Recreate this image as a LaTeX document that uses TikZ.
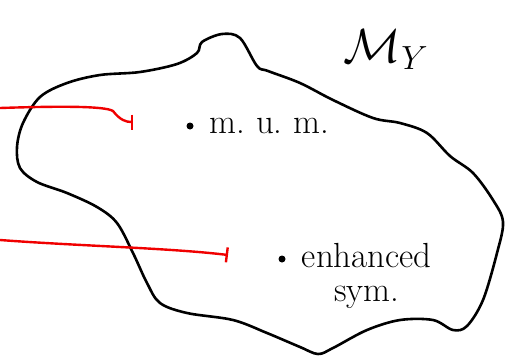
\RequirePackage{fix-cm}
\documentclass[tikz,border=0pt]{standalone}
\usepackage{tikz}
\usetikzlibrary{arrows.meta,positioning}
\definecolor{ink}{HTML}{000000}
\definecolor{redink}{HTML}{F00000}

\begin{document}
\begin{tikzpicture}[x=1bp, y=-1bp, node distance=16bp,
  every node/.style={font=\fontsize{35}{34}\selectfont, inner sep=0pt, text=ink},
  spot/.style={circle, fill=ink, minimum size=7bp, inner sep=0pt},
  redarrow/.style={redink, line width=2.4bp, line cap=round, -{Bar[width=15bp, line width=2.4bp]}}]
\useasboundingbox (0,0) rectangle (511,362);
% the region
\draw[ink, line width=2.6bp, line join=round] plot[smooth cycle, tension=0.55] coordinates {
  (202,42) (222,34) (240,38) (257,66) (268,71) (300,83) (333,100) (373,118)
  (400,123) (427,133) (450,156) (473,173) (493,200) (503,222) (497,253)
  (483,300) (467,326) (453,330) (433,320) (400,320) (367,330) (333,348)
  (318,354) (300,347) (267,333) (233,320) (187,313) (160,303) (147,283)
  (133,253) (117,223) (97,207) (67,193) (37,182) (20,168) (17,147) (23,123)
  (40,97) (67,83) (100,75) (140,72) (177,64) (197,53)};
\node[font=\fontsize{48}{48}\selectfont] (modname) at (386,50) {$\mathcal{M}_Y$};
\node[spot] (dotA) at (190,126) {};
\node[right=of dotA] (umm) {m.\ u.\ m.};
\node[spot] (dotB) at (282,259) {};
\node[right=of dotB, align=center, anchor=north west, yshift=16bp] (enh) {enhanced\\sym.};
% arrows coming in from the left
\coordinate (srcA) at (0,108);
\coordinate (tipA) at (133,122);
\coordinate (srcB) at (0,240);
\coordinate (tipB) at (228,255);
\draw[redarrow] (srcA) .. controls (60,106) and (105,106) .. (113,111) .. controls (120,120) and (126,122) .. (tipA);
\draw[redarrow] (srcB) .. controls (80,246) and (170,248) .. (tipB);
\end{tikzpicture}
\end{document}
